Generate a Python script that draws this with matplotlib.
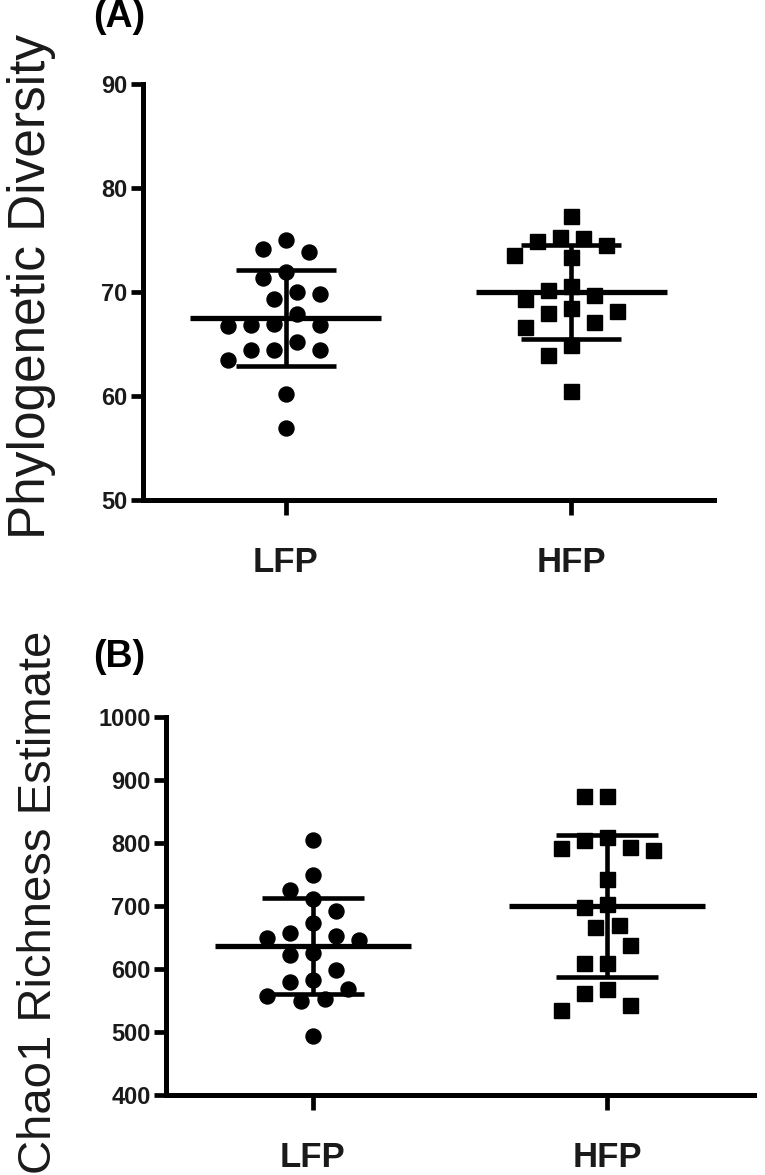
import numpy as np
import matplotlib
matplotlib.use('Agg')
import matplotlib.pyplot as plt

# ---------------- data ----------------
groups = ['LFP', 'HFP']

pd_lfp = [75.0, 73.8, 74.1, 71.9, 71.3, 70.0, 69.3, 69.8, 67.9, 66.9,
          66.7, 66.8, 66.8, 65.2, 64.4, 64.4, 64.4, 63.5, 60.2, 56.9]
pd_hfp = [77.3, 75.2, 74.5, 74.9, 75.3, 73.4, 73.6, 70.6, 69.7, 69.3,
          70.2, 68.5, 68.0, 68.2, 67.1, 66.6, 64.9, 63.9, 60.5]
pd_mean = [67.5, 70.0]
pd_sd = [4.6, 4.55]

chao_lfp = [805, 749, 725, 711, 692, 673, 657, 649, 653, 646,
            626, 622, 598, 583, 579, 568, 553, 549, 557, 494]
chao_hfp = [875, 875, 804, 809, 792, 789, 793, 743, 698, 703,
            670, 666, 638, 610, 609, 569, 562, 543, 535]
chao_mean = [636, 700]
chao_sd = [76, 112]

pd_ticks = [50, 60, 70, 80, 90]
chao_ticks = [400, 500, 600, 700, 800, 900, 1000]

# ---------------- figure ----------------
plt.rcParams['font.family'] = ['Liberation Sans', 'DejaVu Sans']
W, H = 765, 1175
fig = plt.figure(figsize=(W / 100, H / 100), dpi=100)

MS = 10.8            # marker size in points
DPX = MS * 100 / 72  # marker diameter in px


def swarm_offsets(ax, xc, vals):
    """Greedy beeswarm in pixel space; returns x data positions."""
    vals = np.asarray(vals, dtype=float)
    ypx = ax.transData.transform(np.column_stack([np.full(len(vals), xc), vals]))[:, 1]
    x0px = ax.transData.transform((xc, 0))[0]
    step = DPX * 0.77
    mind = DPX * 1.45
    order = np.argsort(-vals)
    placed = []
    xpx = np.zeros(len(vals))
    cands = [0]
    for k in range(1, 12):
        cands += [-k, k]
    for i in order:
        for c in cands:
            xo = c * step
            ok = all((xo - px) ** 2 + (ypx[i] - py) ** 2 >= mind ** 2 for px, py in placed)
            if ok:
                placed.append((xo, ypx[i]))
                xpx[i] = x0px + xo
                break
    xs = ax.transData.inverted().transform(np.column_stack([xpx, ypx]))[:, 0]
    return xs


def panel(rect, series, means, sds, ylim, yticks, ylabel, ylabel_size,
          letter, letter_xy, ylabel_xy):
    ax = fig.add_axes(rect)
    ax.set_xlim(-0.5, 1.5)
    ax.set_ylim(*ylim)
    for s in ['top', 'right']:
        ax.spines[s].set_visible(False)
    for s in ['left', 'bottom']:
        ax.spines[s].set_linewidth(3.6)
    ax.set_yticks(yticks)
    ax.set_xticks(range(len(groups)))
    ax.set_xticklabels(groups)
    ax.tick_params(axis='y', length=9, width=3.4, pad=2, labelsize=17)
    ax.tick_params(axis='x', length=11, width=3.4, pad=22, labelsize=25)
    for lab in ax.get_yticklabels() + ax.get_xticklabels():
        lab.set_fontweight('bold')
        lab.set_color('#1a1a1a')

    markers = ['o', 's']
    for i, vals in enumerate(series):
        xs = swarm_offsets(ax, i, vals)
        ax.plot(xs, vals, linestyle='none', marker=markers[i], ms=MS,
                color='black', mec='black', zorder=3)
        m, sd = means[i], sds[i]
        ax.hlines(m, i - 0.335, i + 0.335, color='black', lw=3.8, zorder=4)
        ax.hlines([m - sd, m + sd], i - 0.175, i + 0.175, color='black', lw=3.3, zorder=4)
        ax.vlines(i, m - sd, m + sd, color='black', lw=3.3, zorder=4)

    fig.text(ylabel_xy[0] / W, 1 - ylabel_xy[1] / H, ylabel, rotation=90,
             ha='center', va='center', fontsize=ylabel_size, color='#1a1a1a')
    fig.text(letter_xy[0] / W, 1 - letter_xy[1] / H, letter, ha='center', va='center',
             fontsize=27, fontweight='bold')
    return ax


# Panel A: left 143, right 714, top 84, bottom 500 (px)
panel([143 / W, 1 - 500 / H, (714 - 143) / W, (500 - 84) / H],
      [pd_lfp, pd_hfp], pd_mean, pd_sd, (50, 90), pd_ticks,
      'Phylogenetic Diversity', 37, '(A)', (119, 17), (32, 286))

# Panel B: left 166, right 754, top 717, bottom 1095 (px)
panel([166 / W, 1 - 1095 / H, (754 - 166) / W, (1095 - 717) / H],
      [chao_lfp, chao_hfp], chao_mean, chao_sd, (400, 1000), chao_ticks,
      'Chao1 Richness Estimate', 34, '(B)', (119, 657), (39, 902))

fig.savefig('out.png', dpi=100)
